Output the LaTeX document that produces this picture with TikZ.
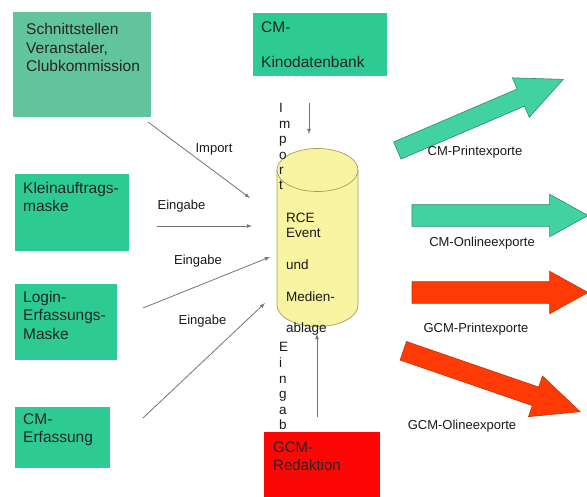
\documentclass[tikz,border=0pt]{standalone}
\usepackage{fontspec}
\setmainfont{Liberation Sans}
\usetikzlibrary{shapes.arrows}
\definecolor{paleGreen}{HTML}{62C49A}
\definecolor{boxGreen}{HTML}{2DCB93}
\definecolor{boxRed}{HTML}{FF0606}
\definecolor{arrGreen}{HTML}{42D1A1}
\definecolor{arrGreenEdge}{HTML}{2E8A69}
\definecolor{arrRed}{HTML}{FF3A05}
\definecolor{arrRedEdge}{HTML}{C23408}
\definecolor{dbFill}{HTML}{F8F4A2}
\definecolor{dbEdge}{HTML}{A69F5C}
\definecolor{flowGray}{HTML}{747474}
\tikzset{
	box/.style={anchor=north west, inner sep=0pt, outer sep=0pt},
	boxtext/.style={anchor=north west, inner sep=0pt, align=left, text=black!85, font=\fontsize{15.5}{18.5}\selectfont},
	lbl/.style={inner sep=0pt, text=black!90, font=\fontsize{13}{15}\selectfont},
	flow/.style={line width=0.8pt, flowGray, -latex},
	bigarrow/.style={single arrow, anchor=tail, inner xsep=0pt, outer sep=0pt, line width=0.6pt},
}
\begin{document}
\begin{tikzpicture}[x=1pt,y=-1pt]
	\useasboundingbox (0,0) rectangle (587,496);
	\coordinate (impA)  at (148,122);
	\coordinate (impB)  at (250,198);
	\coordinate (einA)  at (157,226);
	\coordinate (einB)  at (252,226);
	\coordinate (loginA) at (143,308);
	\coordinate (loginB) at (270,257);
	\coordinate (erfA)  at (143,418);
	\coordinate (erfB)  at (265,303);
	\coordinate (kinoA) at (309,103);
	\coordinate (kinoB) at (309,134);
	\coordinate (redA)  at (317,417);
	\coordinate (redB)  at (317,334);
	
	% boxes on the left and at the top/bottom
	\node [box, fill=paleGreen, minimum width=138, minimum height=105] (schnitt) at (13,12) {};
	\node [boxtext] (schnittText) at (26,23.5) {Schnittstellen\\Veranstaler,\\Clubkommission};
	\node [box, fill=boxGreen, minimum width=134, minimum height=63] (kino) at (253,13) {};
	\node [boxtext] (kinoText) at (261,21) {CM-\\[17pt]Kinodatenbank};
	\node [box, fill=boxGreen, minimum width=114, minimum height=77] (klein) at (15,174) {};
	\node [boxtext] (kleinText) at (23,182) {Kleinauftrags-\\maske};
	\node [box, fill=boxGreen, minimum width=102, minimum height=76] (login) at (15,284) {};
	\node [boxtext] (loginText) at (23,291) {Login-\\Erfassungs-\\Maske};
	\node [box, fill=boxGreen, minimum width=95, minimum height=61] (erf) at (15,407) {};
	\node [boxtext] (erfText) at (23,413) {CM-\\Erfassung};
	\node [box, fill=boxRed, minimum width=116, minimum height=66] (gcm) at (264,432) {};
	\node [boxtext, font=\fontsize{15}{17.5}\selectfont] (gcmText) at (273,442) {GCM-\\Redaktion};
	
	% database cylinder
	\filldraw [fill=dbFill, draw=dbEdge, line width=0.7pt] (277,170) -- (277,305) arc [start angle=180, end angle=0, x radius=40.5, y radius=21.5] -- (358,170) -- cycle;
	\filldraw [fill=dbFill, draw=dbEdge, line width=0.7pt] (317.5,170) ellipse [x radius=40.5, y radius=21.5];
	\node [boxtext, text=black!90, font=\fontsize{13.5}{15}\selectfont] (dbText) at (286,213) {RCE\\Event\\[17pt]und\\[17pt]Medien-\\[16pt]ablage};
	\node [boxtext, text=black!90, font=\fontsize{13.5}{15.4}\selectfont] (impVert) at (279,103.5) {I\\m\\p\\o\\r\\t};
	\node [boxtext, text=black!90, font=\fontsize{13.5}{15.6}\selectfont] (einVert) at (279,342.5) {E\\i\\n\\g\\a\\b};
	
	% inputs
	\draw [flow] (impA) -- (impB);
	\draw [flow] (einA) -- (einB);
	\draw [flow] (loginA) -- (loginB);
	\draw [flow] (erfA) -- (erfB);
	\draw [flow] (kinoA) -- (kinoB);
	\draw [flow] (redA) -- (redB);
	\node [lbl] (impLbl) at (214,149) {Import};
	\node [lbl] (einLbl) at (181.5,206) {Eingabe};
	\node [lbl] (loginLbl) at (198,261.5) {Eingabe};
	\node [lbl] (erfLbl) at (202.5,321) {Eingabe};
	
	% exports
	\node [bigarrow, fill=arrGreen, draw=arrGreenEdge, inner ysep=9pt, minimum height=180.5, minimum width=42.5, single arrow head extend=12.2, single arrow tip angle=50, rotate=23.2] (cmPrint) at (397.3,150.5) {};
	\node [bigarrow, fill=arrGreen, draw=arrGreenEdge, inner ysep=10.5pt, minimum height=176, minimum width=42, single arrow head extend=10.5, single arrow tip angle=58] (cmOnline) at (412,215.5) {};
	\node [bigarrow, fill=arrRed, draw=arrRedEdge, inner ysep=10.5pt, minimum height=176, minimum width=42, single arrow head extend=10.5, single arrow tip angle=58] (gcmPrint) at (412,292.5) {};
	\node [bigarrow, fill=arrRed, draw=arrRedEdge, inner ysep=9.5pt, minimum height=187, minimum width=42.4, single arrow head extend=11.7, single arrow tip angle=49, rotate=-19] (gcmOnline) at (403.3,350.8) {};
	\node [lbl] (cmPrintLbl) at (475,152.5) {CM-Printexporte};
	\node [lbl] (cmOnlineLbl) at (482,243.5) {CM-Onlineexporte};
	\node [lbl] (gcmPrintLbl) at (476,329.5) {GCM-Printexporte};
	\node [lbl] (gcmOnlineLbl) at (462,426) {GCM-Olineexporte};
\end{tikzpicture}
\end{document}
